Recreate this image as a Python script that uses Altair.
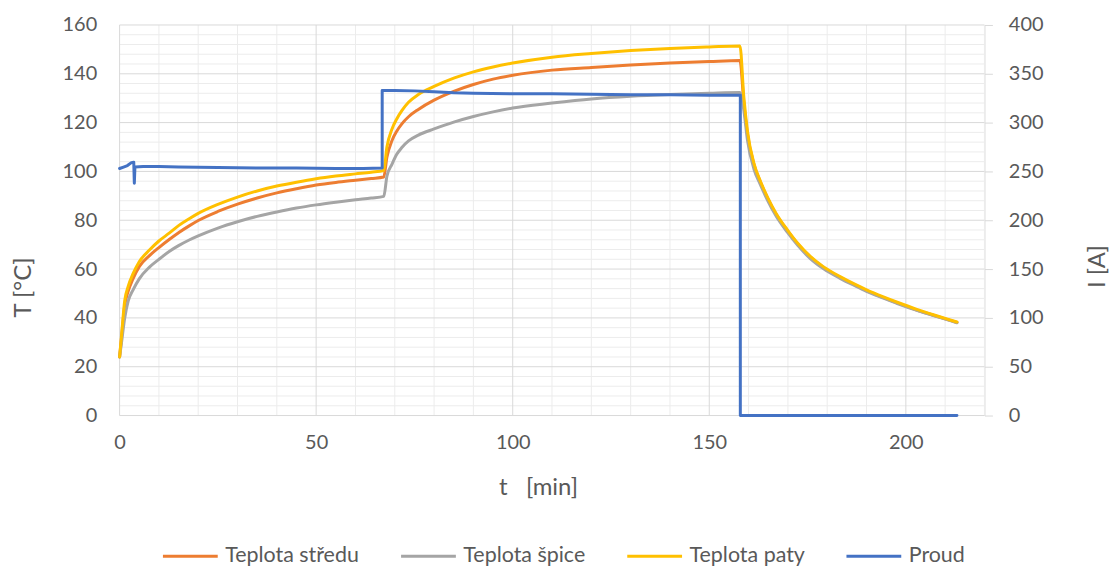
import altair as alt
import pandas as pd

# ---------------- data ----------------
t_temp = [0, 0.5, 1.3, 2.2, 3.4, 5, 7.6, 10, 12.7, 15, 17.7, 20, 25, 30, 35, 40, 45, 50, 55, 60, 64,
          67.2, 68, 69.3, 70.5, 71.8, 73.5, 76, 80, 85, 90, 95, 100, 110, 120, 130, 140, 150, 157.8,
          158.8, 159.7, 161.4, 163, 164.8, 167, 169.9, 172.5, 175.7, 179, 183.4, 187, 190, 194.3, 198,
          202.8, 207, 210, 213]

T_paty = [24, 33, 47, 53, 58, 63, 67.8, 71.5, 74.8, 77.8, 80.6, 82.8, 86.5, 89.5, 92, 94, 95.6, 97, 98.1, 99, 99.7,
          100.4, 110, 117.4, 121.5, 124.9, 128.3, 131.5, 134.8, 138.2, 140.8, 142.8, 144.4, 146.8, 148.3, 149.5, 150.4, 151, 151.4,
          130.3, 116.7, 103.1, 96, 89.5, 82.8, 76, 70.6, 65.2, 61, 56.8, 53.8, 51.5, 48.6, 46.3,
          43.5, 41.3, 39.8, 38.3]

T_stredu = [24, 32, 45, 51, 56, 61, 65.5, 68.8, 72.2, 74.9, 77.7, 79.9, 83.6, 86.6, 89.1, 91.2, 92.9, 94.4, 95.5, 96.4, 97.1,
            97.7, 105.8, 112.7, 116.5, 119.5, 122.4, 125.4, 129.2, 132.8, 135.6, 137.8, 139.4, 141.5, 142.6, 143.6, 144.4, 145, 145.4,
            128, 115.5, 102.7, 95.7, 89.2, 82.5, 75.7, 70.3, 64.9, 60.7, 56.5, 53.5, 51.2, 48.3, 46.0,
            43.2, 41.1, 39.6, 38.1]

T_spice = [24, 30, 40, 47, 51.4, 56, 60.8, 64, 67.3, 69.6, 71.9, 73.6, 76.8, 79.4, 81.6, 83.4, 85, 86.3, 87.4, 88.4, 89.1,
           89.8, 98, 103, 107, 109.8, 112.5, 114.9, 117.4, 120.2, 122.5, 124.4, 126, 128, 129.7, 130.8, 131.5, 132, 132.3,
           125, 113, 100.8, 94.6, 88.3, 81.7, 75.0, 69.7, 64.3, 60.2, 56.1, 53.2, 50.9, 48.1, 45.8,
           43.1, 41.0, 39.5, 38.0]

t_proud = [0, 1, 2, 3, 3.6, 3.75, 3.9, 6, 10, 15, 25, 35, 45, 55, 62, 66.8,
           66.8, 70, 75, 80, 85, 90, 100, 110, 120, 130, 140, 150, 157.9,
           157.9, 165, 175, 185, 195, 205, 213]
I_proud = [253, 254.5, 256, 259, 259.5, 238, 254.5, 255, 255, 254.5, 254, 253.5, 253.5, 253, 253, 253.5,
           333, 333, 332.5, 331.5, 330.5, 330, 329.5, 329.5, 329, 328.5, 328.5, 328, 328,
           0, 0, 0, 0, 0, 0, 0]

series_names = ["Teplota středu", "Teplota špice", "Teplota paty", "Proud"]
series_colors = ["#ED7D31", "#A5A5A5", "#FFC000", "#4472C4"]

x_ticks = [0, 50, 100, 150, 200]
x_minor = [10, 20, 30, 40, 60, 70, 80, 90, 110, 120, 130, 140, 160, 170, 180, 190, 210, 220]
T_ticks = [0, 20, 40, 60, 80, 100, 120, 140, 160]
T_minor = [v for v in range(4, 160, 4) if v % 20 != 0]
I_ticks = [0, 50, 100, 150, 200, 250, 300, 350, 400]

FONT = "Lato"
TXT = "#595959"

# ---------------- frames ----------------
def temp_df(vals, name):
    return pd.DataFrame({"t": t_temp, "T": vals, "series": name, "i": range(len(vals))})

df_stredu = temp_df(T_stredu, series_names[0])
df_spice = temp_df(T_spice, series_names[1])
df_paty = temp_df(T_paty, series_names[2])
df_proud = pd.DataFrame({"t": t_proud, "I": I_proud, "series": series_names[3], "i": range(len(I_proud))})

x_scale = alt.Scale(domain=[0, 220], nice=False, zero=False)
T_scale = alt.Scale(domain=[0, 160], nice=False)
I_scale = alt.Scale(domain=[0, 400], nice=False)

x_axis = alt.Axis(values=x_ticks, grid=False, ticks=False, domain=False, labelFlush=False,
                  labelFont=FONT, labelFontSize=20, labelColor=TXT, labelPadding=17,
                  title="t\u00a0\u00a0 [min]", titleFont=FONT, titleFontSize=24, titleColor=TXT,
                  titleFontWeight="normal", titleX=420, titleY=72, titleBaseline="middle",
                  titleAlign="center")
T_axis = alt.Axis(values=T_ticks, grid=False, ticks=False, domain=False,
                  labelFont=FONT, labelFontSize=20, labelColor=TXT, labelPadding=23,
                  title="T [°C]", titleFont=FONT, titleFontSize=24, titleColor=TXT,
                  titleFontWeight="normal", titleAngle=270, titleX=-96, titleY=263,
                  titleAlign="center", titleBaseline="middle")
I_axis = alt.Axis(values=I_ticks, orient="right", grid=False, ticks=True, tickSize=8,
                  tickColor="#d9d9d9", domain=True, domainColor="#d9d9d9",
                  labelFont=FONT, labelFontSize=20, labelColor=TXT, labelPadding=16,
                  title="I [A]", titleFont=FONT, titleFontSize=24, titleColor=TXT,
                  titleFontWeight="normal", titleAngle=270, titleX=113, titleY=242,
                  titleAlign="center", titleBaseline="middle")

X = alt.X("t:Q", scale=x_scale, axis=x_axis)
Y = alt.Y("T:Q", scale=T_scale, axis=T_axis)

color = alt.Color("series:N",
                  scale=alt.Scale(domain=series_names, range=series_colors),
                  legend=alt.Legend(orient="none", legendX=42, legendY=504, direction="horizontal",
                                    title=None, symbolType="stroke", symbolSize=3025,
                                    symbolStrokeWidth=3, labelFont=FONT, labelFontSize=21.5,
                                    labelColor=TXT, labelOffset=6, columnPadding=35, padding=0,
                                    labelLimit=400))

grid_vmin = alt.Chart(pd.DataFrame({"t": x_minor})).mark_rule(color="#ececec", strokeWidth=1).encode(x=X)
grid_hmin = alt.Chart(pd.DataFrame({"T": T_minor})).mark_rule(color="#ececec", strokeWidth=1).encode(y=Y)
grid_vmaj = alt.Chart(pd.DataFrame({"t": x_ticks})).mark_rule(color="#d9d9d9", strokeWidth=1).encode(x=X)
grid_hmaj = alt.Chart(pd.DataFrame({"T": T_ticks})).mark_rule(color="#d9d9d9", strokeWidth=1).encode(y=Y)

def temp_line(df):
    return alt.Chart(df).mark_line(strokeWidth=3, strokeCap="round", strokeJoin="round",
                                   interpolate="monotone").encode(
        x=X, y=Y, color=color, order="i:Q")

left = alt.layer(grid_vmin, grid_hmin, grid_vmaj, grid_hmaj,
                 temp_line(df_stredu), temp_line(df_spice), temp_line(df_paty))

right = alt.Chart(df_proud).mark_line(strokeWidth=3, strokeCap="round", strokeJoin="round").encode(
    x=X, y=alt.Y("I:Q", scale=I_scale, axis=I_axis), color=color, order="i:Q")

chart = alt.layer(left, right).resolve_scale(y="independent").properties(
    width=868, height=392,
    padding={"left": 112, "top": 16, "right": 125, "bottom": 154},
    autosize=alt.AutoSizeParams(type="none"),
    background="white",
).configure_view(stroke=None)

chart.save("out.html", embed_options={"renderer": "svg", "actions": False})
